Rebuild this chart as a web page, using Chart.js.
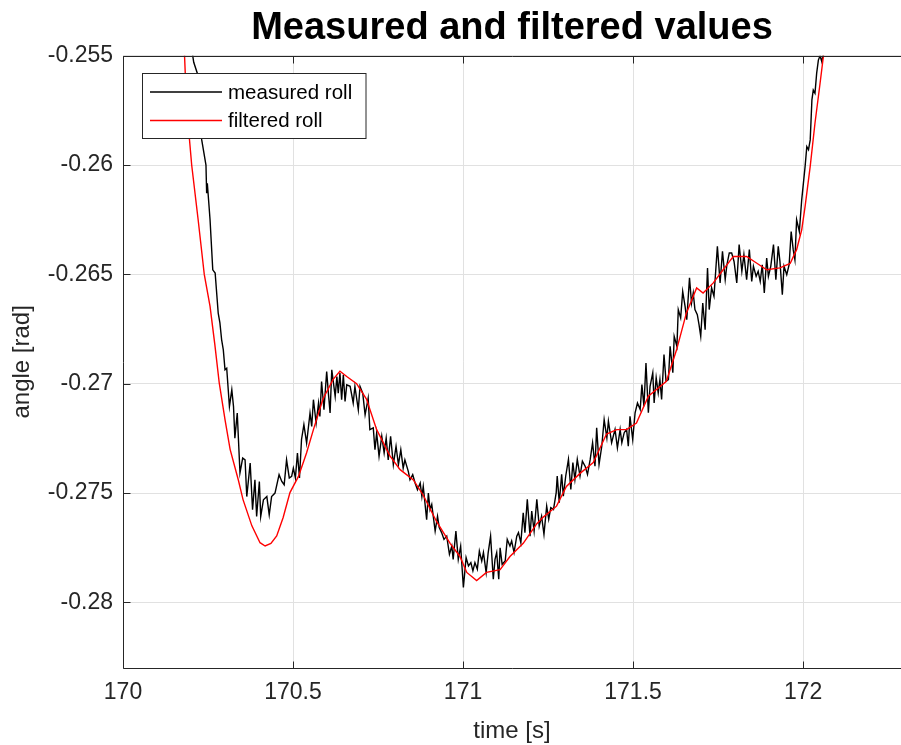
<!DOCTYPE html>
<html>
<head>
<meta charset="utf-8">
<script src="https://cdn.jsdelivr.net/npm/chart.js@4.4.1/dist/chart.umd.min.js"></script>
<style>
  html, body { margin: 0; padding: 0; background: #fff; }
  canvas { display: block; }
</style>
</head>
<body>
<canvas id="rollChart" width="901" height="745"></canvas>
<script>
'use strict';

// ── data ──
const measuredTime = [
  170.200, 170.205, 170.208, 170.2185, 170.2315, 170.244, 170.246, 170.248, 170.256, 170.264,
  170.271, 170.280, 170.285, 170.290, 170.295, 170.300, 170.305, 170.313, 170.320, 170.325,
  170.329, 170.336, 170.344, 170.352, 170.359, 170.364, 170.374, 170.381, 170.388, 170.393,
  170.401, 170.405, 170.413, 170.423, 170.430, 170.437, 170.447, 170.459, 170.467, 170.474,
  170.481, 170.489, 170.496, 170.501, 170.507, 170.513, 170.519, 170.525, 170.532, 170.540,
  170.550, 170.555, 170.560, 170.568, 170.575, 170.579, 170.584, 170.591, 170.599, 170.604,
  170.609, 170.614, 170.619, 170.624, 170.629, 170.633, 170.638, 170.643, 170.648, 170.653,
  170.658, 170.668, 170.677, 170.682, 170.692, 170.697, 170.705, 170.712, 170.721, 170.726,
  170.736, 170.741, 170.746, 170.753, 170.761, 170.768, 170.774, 170.780, 170.787, 170.795,
  170.803, 170.810, 170.817, 170.824, 170.829, 170.839, 170.844, 170.852, 170.859, 170.866,
  170.874, 170.879, 170.883, 170.893, 170.898, 170.903, 170.908, 170.918, 170.925, 170.930,
  170.937, 170.944, 170.952, 170.960, 170.967, 170.971, 170.979, 170.986, 170.993, 171.001,
  171.009, 171.016, 171.023, 171.029, 171.035, 171.042, 171.048, 171.055, 171.060, 171.068,
  171.074, 171.081, 171.089, 171.094, 171.099, 171.105, 171.109, 171.115, 171.124, 171.130,
  171.138, 171.143, 171.150, 171.158, 171.163, 171.170, 171.177, 171.182, 171.189, 171.197,
  171.202, 171.209, 171.217, 171.224, 171.231, 171.238, 171.246, 171.252, 171.258, 171.266,
  171.274, 171.277, 171.283, 171.290, 171.295, 171.302, 171.310, 171.317, 171.323, 171.329,
  171.336, 171.344, 171.351, 171.359, 171.366, 171.374, 171.381, 171.388, 171.393, 171.400,
  171.408, 171.415, 171.423, 171.4275, 171.437, 171.447, 171.454, 171.462, 171.467, 171.474,
  171.481, 171.486, 171.491, 171.499, 171.506, 171.513, 171.521, 171.526, 171.532, 171.538,
  171.545, 171.550, 171.558, 171.562, 171.568, 171.574, 171.579, 171.584, 171.591, 171.597,
  171.604, 171.609, 171.617, 171.621, 171.629, 171.633, 171.640, 171.646, 171.653, 171.658,
  171.666, 171.672, 171.677, 171.682, 171.689, 171.694, 171.699, 171.705, 171.712, 171.719,
  171.724, 171.731, 171.738, 171.743, 171.748, 171.756, 171.763, 171.771, 171.776, 171.783,
  171.790, 171.797, 171.805, 171.812, 171.820, 171.826, 171.834, 171.842, 171.849, 171.854,
  171.862, 171.868, 171.874, 171.880, 171.886, 171.893, 171.898, 171.905, 171.913, 171.920,
  171.927, 171.932, 171.939, 171.944, 171.952, 171.959, 171.965, 171.971, 171.976, 171.981,
  171.989, 171.996, 172.006, 172.011, 172.016, 172.021, 172.026, 172.030, 172.035, 172.040,
  172.045, 172.050, 172.055, 172.060, 172.066
];
const measuredRoll = [
  -0.25400, -0.25500, -0.25530, -0.25580, -0.25885, -0.26000, -0.26129, -0.26083, -0.26250, -0.26479,
  -0.26494, -0.26677, -0.26722, -0.26798, -0.26845, -0.26936, -0.26929, -0.27104, -0.27028, -0.27104,
  -0.27249, -0.27134, -0.27408, -0.27340, -0.27348, -0.27516, -0.27363, -0.27576, -0.27439, -0.27607,
  -0.27447, -0.27607, -0.27531, -0.27516, -0.27600, -0.27516, -0.27500, -0.27416, -0.27447, -0.27462,
  -0.27348, -0.27431, -0.27424, -0.27386, -0.27431, -0.27317, -0.27431, -0.27255, -0.27187, -0.27271,
  -0.27134, -0.27195, -0.27073, -0.27180, -0.27089, -0.27150, -0.26990, -0.27119, -0.26944, -0.27043,
  -0.27134, -0.26936, -0.26997, -0.27058, -0.26967, -0.27043, -0.26951, -0.27073, -0.26959, -0.27081,
  -0.27005, -0.27012, -0.27088, -0.27012, -0.27119, -0.27012, -0.27043, -0.27142, -0.27066, -0.27210,
  -0.27202, -0.27302, -0.27225, -0.27332, -0.27240, -0.27317, -0.27249, -0.27348, -0.27240, -0.27370,
  -0.27286, -0.27370, -0.27302, -0.27386, -0.27348, -0.27401, -0.27439, -0.27416, -0.27454, -0.27485,
  -0.27454, -0.27516, -0.27470, -0.27622, -0.27500, -0.27576, -0.27552, -0.27674, -0.27606, -0.27658,
  -0.27681, -0.27712, -0.27697, -0.27780, -0.27743, -0.27803, -0.27674, -0.27803, -0.27743, -0.27932,
  -0.27795, -0.27833, -0.27818, -0.27856, -0.27818, -0.27848, -0.27765, -0.27811, -0.27772, -0.27864,
  -0.27772, -0.27697, -0.27894, -0.27803, -0.27772, -0.27894, -0.27750, -0.27826, -0.27811, -0.27712,
  -0.27742, -0.27719, -0.27772, -0.27697, -0.27681, -0.27727, -0.27590, -0.27681, -0.27529, -0.27697,
  -0.27582, -0.27674, -0.27529, -0.27651, -0.27606, -0.27689, -0.27560, -0.27620, -0.27567, -0.27575,
  -0.27498, -0.27422, -0.27544, -0.27414, -0.27514, -0.27422, -0.27346, -0.27483, -0.27361, -0.27438,
  -0.27346, -0.27422, -0.27354, -0.27377, -0.27415, -0.27346, -0.27270, -0.27377, -0.27202, -0.27369,
  -0.27286, -0.27164, -0.27248, -0.27171, -0.27270, -0.27209, -0.27293, -0.27209, -0.27270, -0.27224,
  -0.27209, -0.27286, -0.27149, -0.27255, -0.27133, -0.27088, -0.27118, -0.27004, -0.27103, -0.26905,
  -0.27133, -0.27012, -0.26950, -0.27088, -0.26973, -0.27042, -0.26981, -0.27072, -0.26867, -0.26989,
  -0.26981, -0.26829, -0.26950, -0.26783, -0.26829, -0.26661, -0.26699, -0.26578, -0.26646, -0.26707,
  -0.26516, -0.26631, -0.26585, -0.26661, -0.26684, -0.26730, -0.26783, -0.26631, -0.26753, -0.26471,
  -0.26661, -0.26562, -0.26600, -0.26486, -0.26372, -0.26539, -0.26395, -0.26524, -0.26456, -0.26402,
  -0.26402, -0.26441, -0.26539, -0.26364, -0.26486, -0.26410, -0.26524, -0.26387, -0.26532, -0.26463,
  -0.26509, -0.26486, -0.26532, -0.26456, -0.26585, -0.26425, -0.26509, -0.26463, -0.26364, -0.26524,
  -0.26372, -0.26441, -0.26593, -0.26463, -0.26501, -0.26456, -0.26304, -0.26387, -0.26433, -0.26250,
  -0.26304, -0.26159, -0.26006, -0.25916, -0.25930, -0.25885, -0.25702, -0.25657, -0.25672, -0.25580,
  -0.25520, -0.25500, -0.25527, -0.25488, -0.25400
];

const filteredTime = [
  170.170, 170.181, 170.187, 170.202, 170.221, 170.239, 170.256, 170.270, 170.283, 170.300,
  170.315, 170.339, 170.353, 170.379, 170.403, 170.418, 170.435, 170.452, 170.471, 170.491,
  170.516, 170.540, 170.560, 170.588, 170.618, 170.638, 170.658, 170.687, 170.716, 170.746,
  170.785, 170.815, 170.854, 170.883, 170.922, 170.962, 170.991, 171.011, 171.040, 171.069,
  171.109, 171.138, 171.177, 171.217, 171.236, 171.275, 171.304, 171.344, 171.383, 171.422,
  171.452, 171.481, 171.510, 171.545, 171.598, 171.628, 171.657, 171.687, 171.706, 171.736,
  171.765, 171.795, 171.834, 171.863, 171.893, 171.932, 171.962, 171.981, 171.996, 172.006,
  172.021, 172.035, 172.050, 172.060, 172.070
];
const filteredRoll = [
  -0.25280, -0.25500, -0.25730, -0.26000, -0.26250, -0.26500, -0.26646, -0.26820, -0.26996, -0.27164,
  -0.27300, -0.27439, -0.27530, -0.27650, -0.27727, -0.27742, -0.27730, -0.27696, -0.27612, -0.27498,
  -0.27424, -0.27316, -0.27210, -0.27070, -0.26980, -0.26943, -0.26967, -0.27000, -0.27070, -0.27210,
  -0.27330, -0.27393, -0.27440, -0.27510, -0.27630, -0.27730, -0.27790, -0.27863, -0.27900, -0.27863,
  -0.27850, -0.27790, -0.27730, -0.27640, -0.27610, -0.27560, -0.27470, -0.27410, -0.27360, -0.27230,
  -0.27210, -0.27210, -0.27180, -0.27057, -0.26989, -0.26845, -0.26676, -0.26562, -0.26585, -0.26539,
  -0.26479, -0.26418, -0.26418, -0.26448, -0.26479, -0.26470, -0.26450, -0.26387, -0.26296, -0.26189,
  -0.26006, -0.25809, -0.25626, -0.25500, -0.25370
];

const chartTitle = 'Measured and filtered values';
const xTicksStep = 0.5;
const yTicksStep = 0.005;
const xRange = [170, 172.288];
const yRange = [-0.283, -0.255];

const FONT = "'Liberation Sans', Arial, Helvetica, sans-serif";
const AXIS_COLOR = '#262626';
const GRID_COLOR = '#e1e1e1';

const trimNum = v => String(parseFloat(Number(v).toFixed(4)));

// title over the axes, box, inward ticks and in-plot legend (MATLAB look)
const axesDecor = {
  id: 'axesDecor',
  afterDraw(chart) {
    const { ctx, chartArea: a, scales: { x, y } } = chart;
    const L = Math.round(a.left) + 0.5, T = Math.round(a.top) + 0.5, B = Math.round(a.bottom) + 0.5;
    ctx.save();

    // title, centred on the axes box
    ctx.fillStyle = '#000';
    ctx.font = `bold 38px ${FONT}`;
    ctx.textAlign = 'center';
    ctx.textBaseline = 'alphabetic';
    ctx.fillText(chartTitle, (a.left + a.right) / 2, 39);

    ctx.strokeStyle = AXIS_COLOR;
    ctx.lineWidth = 1;
    ctx.beginPath();
    ctx.moveTo(L, B); ctx.lineTo(L, T); ctx.lineTo(a.right, T);
    ctx.moveTo(L, B); ctx.lineTo(a.right, B);
    x.ticks.forEach(t => {
      const px = Math.round(x.getPixelForValue(t.value)) + 0.5;
      ctx.moveTo(px, B); ctx.lineTo(px, B - 7);
      ctx.moveTo(px, T); ctx.lineTo(px, T + 7);
    });
    y.ticks.forEach(t => {
      const py = Math.round(y.getPixelForValue(t.value)) + 0.5;
      ctx.moveTo(L, py); ctx.lineTo(L + 7, py);
    });
    ctx.stroke();

    // legend
    const bx = 142.5, by = 73.5, bw = 223.5, bh = 65;
    ctx.fillStyle = '#fff';
    ctx.fillRect(bx, by, bw, bh);
    ctx.strokeRect(bx, by, bw, bh);
    ctx.font = `20.5px ${FONT}`;
    ctx.textBaseline = 'middle';
    ctx.textAlign = 'left';
    chart.data.datasets.forEach((ds, i) => {
      const ly = 92 + i * 28.5;
      ctx.strokeStyle = ds.borderColor;
      ctx.lineWidth = 1.3;
      ctx.beginPath();
      ctx.moveTo(150, ly); ctx.lineTo(222, ly);
      ctx.stroke();
      ctx.fillStyle = '#000';
      ctx.fillText(ds.label, 228, ly + 1);
    });
    ctx.restore();
  }
};

new Chart(document.getElementById('rollChart'), {
  type: 'line',
  data: {
    datasets: [
      {
        label: 'measured roll',
        data: measuredTime.map((t, i) => ({ x: t, y: measuredRoll[i] })),
        borderColor: '#000000',
        borderWidth: 1.4,
        pointRadius: 0,
        tension: 0,
        order: 1
      },
      {
        label: 'filtered roll',
        data: filteredTime.map((t, i) => ({ x: t, y: filteredRoll[i] })),
        borderColor: '#ff0000',
        borderWidth: 1.4,
        pointRadius: 0,
        tension: 0,
        order: 0
      }
    ]
  },
  options: {
    responsive: false,
    animation: false,
    events: [],
    layout: { padding: { top: 55.7, left: 0, right: 0, bottom: 0 } },
    plugins: {
      legend: { display: false },
      tooltip: { enabled: false },
      title: { display: false }
    },
    scales: {
      x: {
        type: 'linear',
        min: xRange[0], max: xRange[1],
        afterFit: s => { s.height = 77; },
        grid: { color: GRID_COLOR, drawTicks: false },
        border: { display: false },
        ticks: {
          stepSize: xTicksStep, includeBounds: false, padding: 11,
          color: AXIS_COLOR, font: { family: FONT, size: 23 },
          callback: trimNum
        },
        title: {
          display: true, text: 'time [s]', color: AXIS_COLOR,
          font: { family: FONT, size: 24 }, padding: { top: 0, bottom: -1 }
        }
      },
      y: {
        type: 'linear',
        min: yRange[0], max: yRange[1],
        afterFit: s => { s.width = 123; },
        grid: { color: GRID_COLOR, drawTicks: false },
        border: { display: false },
        ticks: {
          stepSize: yTicksStep, includeBounds: false, padding: 10,
          color: AXIS_COLOR, font: { family: FONT, size: 23 },
          callback: trimNum
        },
        title: {
          display: true, text: 'angle [rad]', color: AXIS_COLOR,
          font: { family: FONT, size: 24 }, padding: { top: 8, bottom: 0 }
        }
      }
    }
  },
  plugins: [axesDecor]
});
</script>
</body>
</html>
